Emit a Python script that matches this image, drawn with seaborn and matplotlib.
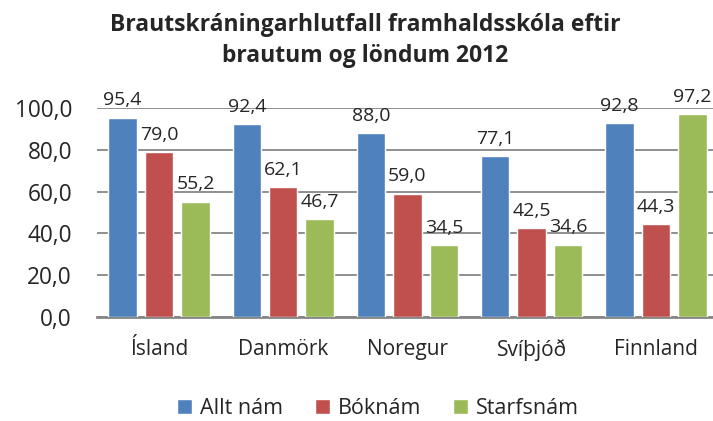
import pandas as pd
import matplotlib.pyplot as plt
import seaborn as sns

# Data
countries = ['Ísland', 'Danmörk', 'Noregur', 'Svíþjóð', 'Finnland']
series = ['Allt nám', 'Bóknám', 'Starfsnám']
allt_nam = [95.4, 92.4, 88.0, 77.1, 92.8]
boknam = [79.0, 62.1, 59.0, 42.5, 44.3]
starfsnam = [55.2, 46.7, 34.5, 34.6, 97.2]
colors = ['#4F81BD', '#C0504D', '#9BBB59']


def main():
    df = pd.DataFrame({
        'land': countries * 3,
        'braut': [s for s in series for _ in countries],
        'hlutfall': allt_nam + boknam + starfsnam,
    })

    sns.set_style('white')
    plt.rcParams['font.family'] = ['Open Sans', 'DejaVu Sans']

    fig = plt.figure(figsize=(7.13, 4.21), dpi=100)
    ax = fig.add_axes([0.136, 0.247, 0.864, 0.4965])
    sns.barplot(data=df, x='land', y='hlutfall', hue='braut',
                palette=colors, width=0.88, gap=0.22, saturation=1,
                ax=ax, zorder=3)

    for cont in ax.containers:
        ax.bar_label(cont, labels=[f'{v:.1f}'.replace('.', ',')
                                   for v in cont.datavalues],
                     padding=6, fontsize=14, clip_on=False)

    ax.set_ylim(0, 100)
    ax.set_xlim(-0.5, 4.46)
    ax.set_yticks(range(0, 101, 20))
    ax.set_yticklabels([f'{v},0' for v in range(0, 101, 20)])
    ax.yaxis.grid(True, color='#868686', linewidth=1.3, zorder=0)
    ax.set_axisbelow(True)
    for side in ['left', 'right', 'top']:
        ax.spines[side].set_visible(False)
    ax.spines['bottom'].set_color('#868686')
    ax.spines['bottom'].set_linewidth(2)
    ax.tick_params(axis='y', length=0, pad=18, labelsize=16.3)
    ax.tick_params(axis='x', length=0, pad=16, labelsize=15)
    ax.set_xlabel('')
    ax.set_ylabel('')

    fig.text(0.512, 0.97, 'Brautskráningarhlutfall framhaldsskóla eftir\n'
             'brautum og löndum 2012', ha='center', va='top',
             fontsize=16.5, fontweight='bold', linespacing=1.4)

    handles, labels = ax.get_legend_handles_labels()
    ax.get_legend().remove()
    fig.legend(handles, labels, loc='center', bbox_to_anchor=(0.53, 0.03),
               ncol=3, frameon=False, fontsize=15.5, handlelength=0.7,
               handleheight=0.7, handletextpad=0.35, columnspacing=1.5)

    fig.savefig('out.png', dpi=100)
    plt.close('all')


if __name__ == '__main__':
    main()
